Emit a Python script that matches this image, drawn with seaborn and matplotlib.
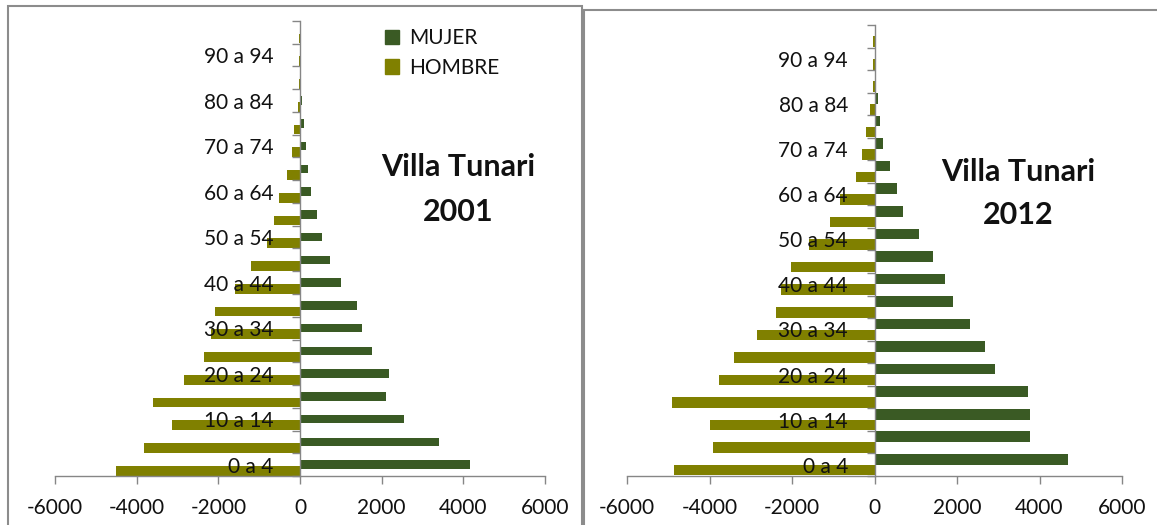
import numpy as np
import matplotlib.pyplot as plt
from matplotlib.patches import Rectangle, Patch
import seaborn as sns

# grupos de edad (de abajo hacia arriba)
grupos = ['0 a 4', '5 a 9', '10 a 14', '15 a 19', '20 a 24', '25 a 29', '30 a 34',
          '35 a 39', '40 a 44', '45 a 49', '50 a 54', '55 a 59', '60 a 64', '65 a 69',
          '70 a 74', '75 a 79', '80 a 84', '85 a 89', '90 a 94', '95 y más']

# Villa Tunari 2001
mujer_2001 = [4165, 3410, 2550, 2100, 2170, 1765, 1530, 1395, 1015, 742,
              534, 425, 280, 208, 154, 104, 40, 8, 3, 2]
hombre_2001 = [4505, 3810, 3125, 3590, 2830, 2345, 2180, 2070, 1600, 1200,
               805, 625, 505, 317, 188, 158, 58, 32, 30, 28]

# Villa Tunari 2012
mujer_2012 = [4690, 3760, 3760, 3730, 2930, 2685, 2310, 1895, 1705, 1430,
              1076, 693, 551, 364, 204, 122, 92, 10, 5, 3]
hombre_2012 = [4870, 3925, 4000, 4900, 3770, 3400, 2845, 2400, 2270, 2030,
               1590, 1070, 845, 445, 310, 205, 100, 30, 30, 25]

xticks = [-6000, -4000, -2000, 0, 2000, 4000, 6000]

verde = '#3a5a24'
oliva = '#808000'
gris = '#868686'

sns.set_theme(style='white')
plt.rcParams['font.family'] = ['Lato', 'DejaVu Sans']
plt.rcParams['axes.unicode_minus'] = False
plt.rcParams['text.color'] = '#111111'

W, H = 1157, 525
fig = plt.figure(figsize=(W / 100, H / 100), dpi=100)


def px(x0, y0, x1, y1):
    # caja en pixeles -> fracciones de figura
    return [x0 / W, 1 - y1 / H, (x1 - x0) / W, (y1 - y0) / H]


def piramide(ax, mujer, hombre, off_m, off_h, h_m, h_h):
    pos = np.arange(len(grupos))
    sns.barplot(x=mujer, y=pos + off_m, orient='h', native_scale=True, width=h_m,
                color=verde, saturation=1, errorbar=None, linewidth=0, ax=ax)
    sns.barplot(x=-np.array(hombre), y=pos + off_h, orient='h', native_scale=True,
                width=h_h, color=oliva, saturation=1, errorbar=None, linewidth=0, ax=ax)
    ax.set_axisbelow(False)  # etiquetas encima de las barras, como en Excel
    ax.set_xlim(-6000, 6000)
    ax.set_ylim(-0.5, len(grupos) - 0.5)
    ax.set_xlabel('')
    ax.set_ylabel('')
    for s in ['top', 'right']:
        ax.spines[s].set_visible(False)
    ax.spines['left'].set_position(('data', 0))
    for s in ['left', 'bottom']:
        ax.spines[s].set_color(gris)
        ax.spines[s].set_linewidth(1.0)
    ax.set_xticks(xticks)
    ax.set_xticklabels([str(v) for v in xticks], fontsize=15)
    ax.set_yticks(np.arange(len(grupos) + 1) - 0.5)
    ax.set_yticklabels([])
    ax.set_yticks(pos, minor=True)
    ax.set_yticklabels([g if i % 2 == 0 else '' for i, g in enumerate(grupos)],
                       minor=True, fontsize=15)
    ax.tick_params(axis='y', which='major', left=True, length=6, width=1, color=gris, direction='out')
    ax.tick_params(axis='y', which='minor', left=True, length=0, pad=19, labelcolor='#111111')
    ax.tick_params(axis='x', bottom=True, length=6, width=1, color=gris, direction='out', pad=10,
                   labelcolor='#111111')


ax1 = fig.add_axes(px(55, 21, 545, 476))
piramide(ax1, mujer_2001, hombre_2001, 0.0, -0.27, 0.38, 0.42)
ax2 = fig.add_axes(px(627, 25, 1122, 476))
piramide(ax2, mujer_2012, hombre_2012, 0.24, -0.24, 0.47, 0.47)

ax1.legend(handles=[Patch(color=verde, label='MUJER'), Patch(color=oliva, label='HOMBRE')],
           loc='upper left', bbox_to_anchor=(0.635, 1.025), frameon=False, fontsize=15,
           handlelength=0.7, handleheight=0.7, handletextpad=0.45, labelspacing=0.45)

fig.text(458 / W, 1 - 167 / H, 'Villa Tunari', ha='center', va='center', fontsize=22, fontweight='bold')
fig.text(458 / W, 1 - 212 / H, '2001', ha='center', va='center', fontsize=22, fontweight='bold')
fig.text(1018 / W, 1 - 172 / H, 'Villa Tunari', ha='center', va='center', fontsize=22, fontweight='bold')
fig.text(1018 / W, 1 - 215 / H, '2012', ha='center', va='center', fontsize=22, fontweight='bold')

# marcos de cada gráfico
fig.add_artist(Rectangle((8 / W, -0.05), (582 - 8) / W, 1.05 - 6 / H, transform=fig.transFigure,
                         fill=False, ec='#8c8c8c', lw=1.5))
fig.add_artist(Rectangle((584 / W, -0.05), 0.6, 1.05 - 10 / H, transform=fig.transFigure,
                         fill=False, ec='#8c8c8c', lw=1.5))

fig.savefig('out.png', dpi=100)
